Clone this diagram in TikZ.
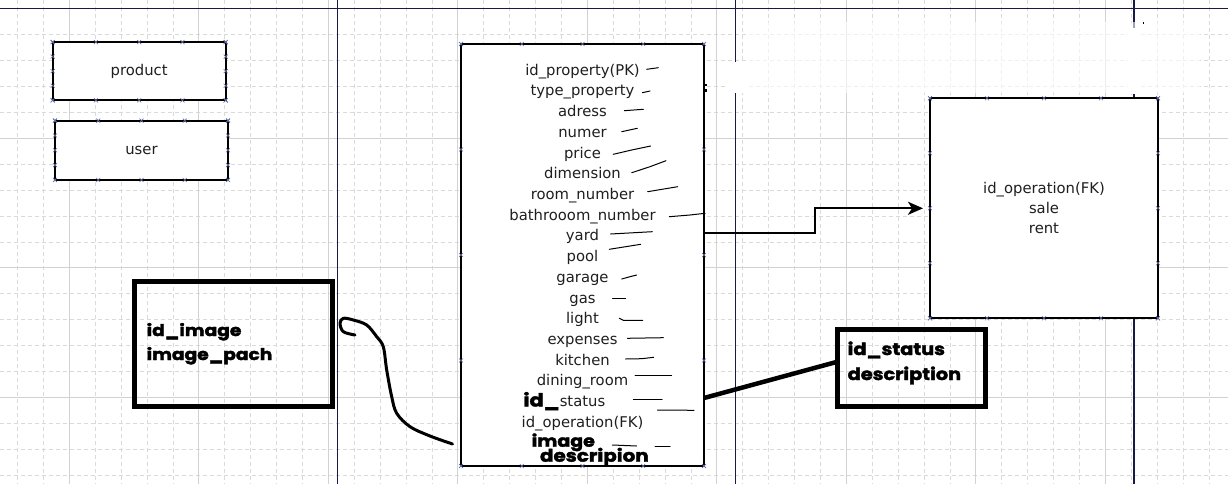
\documentclass[tikz,border=0pt]{standalone}
\usepackage{fontspec}
\setmainfont{DejaVu Sans}
\newfontfamily\heavyfont{Poppins}[FakeStretch=1.15,FakeBold=2.2]
\usepackage{xcolor}
\usepackage{tikz}
\usetikzlibrary{positioning,arrows.meta,shapes.misc,calc}
\definecolor{navy}{RGB}{25,25,70}
\definecolor{gridminor}{RGB}{218,218,218}
\definecolor{gridmajor}{RGB}{210,210,210}
\definecolor{markcol}{RGB}{100,110,160}

\begin{document}
\begin{tikzpicture}[
  x=1pt, y=-1pt,
  every node/.style={inner sep=0pt, outer sep=0pt},
  txt/.style={font=\fontsize{14.8}{20.7}\selectfont, text=black!88, anchor=base},
  heavy/.style={font=\heavyfont\bfseries\fontsize{#1}{20}\selectfont, anchor=base west},
  entity/.style={draw, line width=2pt, fill=white, text=black!88,
                 font=\fontsize{14.8}{20}\selectfont, align=center},
  thickbox/.style={draw, line width=5pt},
  xmark/.style={cross out, draw=markcol, line width=0.6pt, minimum size=4pt},
  minor/.style={draw=gridminor, line width=0.8pt, dash pattern=on 4pt off 3pt},
  major/.style={draw=gridmajor, line width=1pt},
  rule/.style={draw=navy, line width=1.3pt},
  link/.style={line width=2pt},
  scrawl/.style={line width=3pt, line cap=round, line join=round},
  scribble/.style={line width=1pt, line cap=round}
]
  \useasboundingbox[fill=white] (0,0) rectangle (1228,484);

  % --- grid
  \foreach \i in {0,...,46} \draw[minor] ({17.5+25.9*\i},0) -- ++(0,484);
  \foreach \j in {0,...,18} \draw[minor] (0,{8.8+25.9*\j}) -- ++(1228,0);
  \foreach \i in {0,...,8} \draw[major] ({69.3+129.5*\i},0) -- ++(0,484);
  \foreach \j in {1,2,3} \draw[major] (0,{8.8+129.5*\j}) -- ++(1228,0);

  % --- page rules
  \draw[rule] (0,8.3) -- (1228,8.3);
  \draw[rule] (337.7,0) -- (337.7,484);
  \draw[rule] (735.5,0) -- (735.5,484);
  \draw[rule] (1134,0) -- (1134,484);
  \fill[white] (728,62) rectangle (746,93);
  \fill[white, opacity=0.6] (746,22) rectangle (1200,93);
  \fill[white] (1128,28) rectangle (1140,94);

  % --- small tables
  \node[entity, minimum width=173pt, minimum height=58.3pt] (prod) at (139.2,71.2) {product};
  \node[entity, minimum width=173pt, minimum height=59.3pt] (user) at (141.5,150.3) {user};

  % --- property table
  \node[entity, minimum width=243pt, minimum height=422pt] (prop) at (582.5,255) {};
  \foreach \txt [count=\i] in {id\_property(PK), type\_property, adress, numer, price,
      dimension, room\_number, bathrooom\_number, yard, pool, garage, gas, light,
      expenses, kitchen, dining\_room, status, id\_operation(FK)}
    \node[txt] (row\i) at (582.5,{75.3+20.7*(\i-1)}) {\txt};
  \node[heavy=18, anchor=base east] (idpre) at (row17.base west) {id\_};
  \node[heavy=16.5] (imgrow) at (531.7,446.7) {image};
  \node[heavy=17.3] (descrow) at (540,461.7) {descripion};
  \fill (704.8,84) rectangle (707.3,86.5);
  \fill (704.8,89.5) rectangle (707.3,92);
  \fill (1142.5,22.5) rectangle (1144,24);

  % --- hand marks beside the rows
  \foreach \p in {{(646.7,69.3) -- (658.3,67.7)}, {(642.3,92.7) -- (650,91)},
      {(624.3,110.7) -- (643.3,109.3)}, {(621.7,131.7) -- (637.3,128.3)},
      {(613.3,154.3) -- (631.7,150) -- (650.7,146)},
      {(631.7,172.7) -- (650,166.7) -- (666,160.7)},
      {(647.7,191.7) -- (677.7,186.7)},
      {(669.3,216.7) -- (690,215) -- (705,213.3)},
      {(610.7,234) -- (652.3,231.7)}, {(609.3,249.3) -- (640.7,244.3)},
      {(621.7,279) -- (630,276.7) -- (636.7,275)}, {(612.7,298.3) -- (625.7,298.3)},
      {(619.3,318.3) -- (623.3,320.3) -- (642.7,320.3)},
      {(627.3,338.3) -- (663.3,337.7)},
      {(625.7,359) -- (641.7,358.7) -- (653.7,357.3)},
      {(635,375.7) -- (671.7,375.7)}, {(633.3,399.3) -- (662,399.3)},
      {(657.3,410) -- (694,410.3)}, {(612.3,445) -- (636.7,446)},
      {(655,446) -- (670,446)}}
    \draw[scribble] \p;

  % --- operation table
  \node[entity, minimum width=228pt, minimum height=220pt] (oper) at (1044,208.3)
       {id\_operation(FK)\\sale\\rent};

  % --- connection points
  \foreach \b in {prod,user,prop,oper}
    \foreach \f in {0,0.25,0.5,0.75,1} {
      \node[xmark] at ($(\b.north west)!\f!(\b.north east)$) {};
      \node[xmark] at ($(\b.south west)!\f!(\b.south east)$) {};
      \node[xmark] at ($(\b.north west)!\f!(\b.south west)$) {};
      \node[xmark] at ($(\b.north east)!\f!(\b.south east)$) {};
    }

  % --- image table
  \node[thickbox, minimum width=198pt, minimum height=125pt] (img) at (233.5,343.5) {};
  \node[heavy=16.2] (imgkey) at (146.7,336) {id\_image};
  \node[heavy=16.2] (imgpath) at (146.7,360) {image\_pach};

  % --- status table
  \node[thickbox, minimum width=148pt, minimum height=77pt] (stat) at (911.5,367.5) {};
  \node[heavy=16.8] (statkey) at (847.7,355) {id\_status};
  \node[heavy=16.8] (statdesc) at (847.7,380) {description};

  % --- links
  \draw[link, -{Stealth[length=15pt, width=13pt, inset=4pt]}]
       ([yshift=22.5pt]prop.east) -- ++(110.5,0) |- ([xshift=-7pt]oper.west);
  \draw[line width=4.5pt] ([yshift=-143pt]prop.east) -- ([yshift=5.8pt]stat.west);
  \coordinate (curvestart) at ([xshift=-8.5pt, yshift=-189pt]prop.west);
  \coordinate (hook) at (355,335);
  \draw[scrawl] plot[smooth, tension=0.55] coordinates {(curvestart) (430,436)
       (410,426.7) (396.7,413.3) (391.7,396.7) (386.7,370) (383.3,346.7)
       (376.7,336.7) (366.7,325) (353.3,320) (343.3,318.3) (340,323.3)
       (343.3,331.7) (hook)};
\end{tikzpicture}
\end{document}
